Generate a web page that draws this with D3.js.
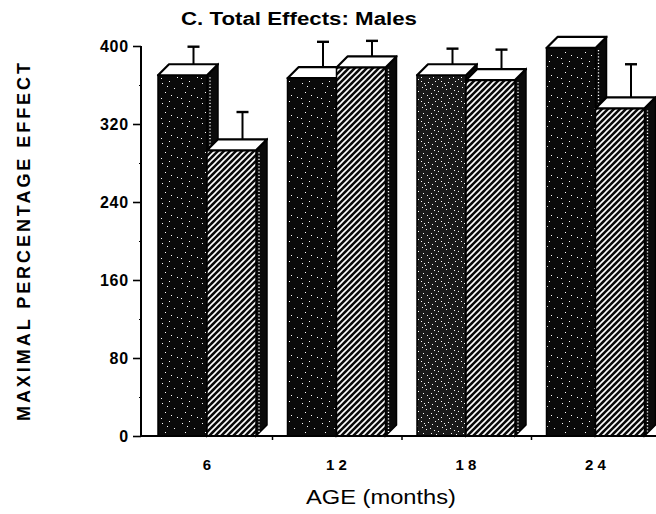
<!DOCTYPE html>
<html><head><meta charset="utf-8">
<script src="https://cdn.jsdelivr.net/npm/d3@7/dist/d3.min.js"></script>
<style>html,body{margin:0;padding:0;background:#fff;}svg{display:block;}</style>
</head><body>
<svg id="chart" width="656" height="514"></svg>
<script>
const categories = ["6", "12", "18", "24"];
const tickLabels = ["6", "1 2", "1 8", "2 4"];
const seriesNames = ["dark", "hatched"];
const darkValues = [370, 367, 370, 398];
const hatchValues = [293, 378, 365, 336];
const darkErr = [18, 26, 16, 0];
const hatchErr = [28, 16, 20, 34];
const yTicks = [0, 80, 160, 240, 320, 400];
const yMinorTicks = [40, 120, 200, 280, 360];

const svg = d3.select("#chart");
const FONT = "'Liberation Sans', Arial, Helvetica, sans-serif";
const depth = 11;
const axisX = 141;

const y = d3.scaleLinear().domain([0, 400]).range([436, 46]);
const x = d3.scaleBand().domain(categories).range([143, 661]).paddingInner(0).paddingOuter(0);
const xs = d3.scaleBand().domain(seriesNames).range([15, 113]);

// patterns
const defs = svg.append("defs");
function speckle(id, bg, dots, size) {
  const p = defs.append("pattern").attr("id", id).attr("patternUnits", "userSpaceOnUse")
    .attr("width", size).attr("height", size);
  p.append("rect").attr("width", size).attr("height", size).attr("fill", bg);
  dots.forEach(d => p.append("rect").attr("x", d[0]).attr("y", d[1]).attr("width", 1).attr("height", 1).attr("fill", "#fff"));
}
speckle("dark", "#0a0a0a", [[2,3],[9,1],[14,8],[5,12],[11,15],[17,17],[1,18],[7,6]], 20);
speckle("gray", "#1a1a1a", [[1,1],[4,3],[8,2],[12,4],[15,1],[2,7],[6,9],[10,8],[14,10],[17,6],[3,13],[7,15],[11,13],[16,14],[1,17],[9,18],[13,17],[18,19],[5,5],[18,11]], 20);
const hp = defs.append("pattern").attr("id", "hatch").attr("patternUnits", "userSpaceOnUse")
  .attr("width", 6).attr("height", 6);
hp.append("rect").attr("width", 6).attr("height", 6).attr("fill", "#0a0a0a");
hp.append("path").attr("d", "M-1,7 L7,-1 M-4,4 L4,-4 M2,10 L10,2").attr("stroke", "#fff").attr("stroke-width", 1.6);

const base = y(0);

function drawBar(left, w, val, err, fill) {
  const top = y(val), r = left + w;
  const g = svg.append("g");
  g.append("path")
    .attr("d", `M${r},${top} L${r + depth},${top - depth} L${r + depth},${base - depth} L${r},${base} Z`)
    .attr("fill", "#0a0a0a").attr("stroke", "#000").attr("stroke-width", 1.5);
  g.append("line").attr("x1", r + 3).attr("x2", r + 3).attr("y1", top + 2).attr("y2", base - 4)
    .attr("stroke", "#fff").attr("stroke-width", 1.3).attr("stroke-dasharray", "1.2,2");
  g.append("rect").attr("x", left).attr("y", top).attr("width", w).attr("height", base - top)
    .attr("fill", fill).attr("stroke", "#000").attr("stroke-width", 1.5);
  g.append("path")
    .attr("d", `M${left},${top} L${left + depth},${top - depth} L${r + depth},${top - depth} L${r},${top} Z`)
    .attr("fill", "#fff").attr("stroke", "#000").attr("stroke-width", 2.2).attr("stroke-linejoin", "round");
  if (err > 0) {
    const cx = left + w / 2 + depth;
    const y0 = top - depth;
    const y1 = y0 - (y(0) - y(err));
    g.append("line").attr("x1", cx).attr("x2", cx).attr("y1", y0).attr("y2", y1).attr("stroke", "#000").attr("stroke-width", 2);
    g.append("line").attr("x1", cx - 6).attr("x2", cx + 6).attr("y1", y1).attr("y2", y1).attr("stroke", "#000").attr("stroke-width", 2.4);
  }
}

categories.forEach((c, i) => {
  const bx = x(c);
  drawBar(bx + xs("dark"), xs.bandwidth(), darkValues[i], darkErr[i], c === "18" ? "url(#gray)" : "url(#dark)");
  drawBar(bx + xs("hatched"), xs.bandwidth(), hatchValues[i], hatchErr[i], "url(#hatch)");
});

// y axis
const yAxis = d3.axisLeft(y).tickValues(yTicks).tickSize(8).tickPadding(4);
const ya = svg.append("g").attr("transform", `translate(${axisX},0)`).call(yAxis);
ya.attr("font-size", null).attr("font-family", null);
ya.select(".domain").attr("stroke", "#000").attr("stroke-width", 2).attr("d", `M0,${y(400)}V${base}`);
ya.selectAll(".tick line").attr("stroke-width", 1.6);
ya.selectAll(".tick text").style("font-family", FONT).style("font-size", "16px").style("font-weight", "bold")
  .style("letter-spacing", "0.8px").attr("fill", "#000");
svg.append("g").attr("transform", `translate(${axisX},0)`)
  .call(d3.axisLeft(y).tickValues(yMinorTicks).tickSize(2).tickFormat(""))
  .call(g => g.select(".domain").remove())
  .selectAll("line").attr("stroke-width", 1.2);

// x axis
const xa = svg.append("g").attr("transform", `translate(0,${base})`);
xa.append("line").attr("x1", axisX - 1).attr("x2", 656).attr("y1", 0).attr("y2", 0).attr("stroke", "#000").attr("stroke-width", 2);
categories.slice(1).forEach(c => {
  xa.append("line").attr("x1", x(c)).attr("x2", x(c)).attr("y1", 0).attr("y2", 4).attr("stroke", "#000").attr("stroke-width", 1.5);
});
categories.forEach((c, i) => {
  xa.append("text").attr("x", x(c) + xs("hatched")).attr("y", 34)
    .attr("text-anchor", "middle").attr("font-family", FONT).attr("font-size", 15).attr("font-weight", "bold")
    .attr("xml:space", "preserve").text(tickLabels[i]);
});

// titles
svg.append("text").attr("x", 181).attr("y", 25).attr("font-family", FONT).attr("font-size", 18)
  .attr("font-weight", "bold").attr("textLength", 236).attr("lengthAdjust", "spacingAndGlyphs").text("C. Total Effects: Males");
svg.append("text").attr("x", 381).attr("y", 504).attr("text-anchor", "middle").attr("font-family", FONT)
  .attr("font-size", 20).attr("textLength", 150).attr("lengthAdjust", "spacingAndGlyphs").text("AGE (months)");
svg.append("text").attr("transform", "translate(30,242) rotate(-90)").attr("text-anchor", "middle")
  .attr("font-family", FONT).attr("font-size", 18).attr("font-weight", 600).attr("textLength", 358).attr("lengthAdjust", "spacing")
  .text("MAXIMAL PERCENTAGE EFFECT");
</script>
</body></html>
